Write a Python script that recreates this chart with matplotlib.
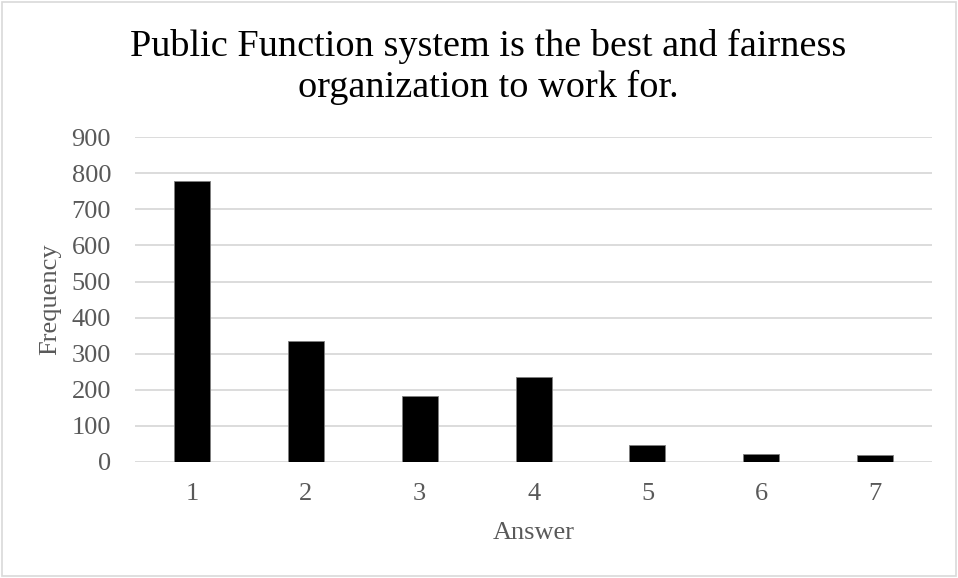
import matplotlib
matplotlib.use('Agg')
import matplotlib.pyplot as plt
from matplotlib.patches import Rectangle

answers = ['1', '2', '3', '4', '5', '6', '7']
frequency = [778, 336, 182, 234, 48, 23, 18]
yticks = [0, 100, 200, 300, 400, 500, 600, 700, 800, 900]
title_lines = ['Public Function system is the best and fairness',
               'organization to work for.']

TEXT = '#595959'
GRID = '#d9d9d9'

plt.rcParams['font.family'] = ['Liberation Serif', 'DejaVu Serif']

fig = plt.figure(figsize=(9.58, 5.78), dpi=100)
ax = fig.add_axes([0.141, 0.201, 0.832, 0.5615])

x = list(range(len(answers)))
ax.bar(x, frequency, width=0.316, color='black', edgecolor='#7f7f7f',
       linewidth=0.6, zorder=3)

ax.set_xlim(-0.5, len(answers) - 0.5)
ax.set_ylim(0, 900)
ax.set_yticks(yticks)
ax.set_xticks(x)
ax.set_xticklabels(answers)
ax.yaxis.grid(True, color=GRID, linewidth=1.3, zorder=0)
ax.set_axisbelow(True)
for s in ax.spines.values():
    s.set_visible(False)
ax.tick_params(axis='both', length=0, labelsize=19, colors=TEXT)
ax.tick_params(axis='x', pad=15.3)
ax.tick_params(axis='y', pad=17.3)

# axis titles centred at fixed spots relative to the plot area
ax.set_xlabel('Answer', fontsize=19, color=TEXT, va='center')
ax.xaxis.set_label_coords(0.5005, -0.2194)
ax.set_ylabel('Frequency', fontsize=19, color=TEXT, va='center')
ax.yaxis.set_label_coords(-0.106, 0.502)

# two-line title, baselines placed in figure coords
fig.text(0.510, 1 - 56 / 578, title_lines[0], ha='center', va='baseline',
         fontsize=27.5, color='black')
fig.text(0.510, 1 - 97 / 578, title_lines[1], ha='center', va='baseline',
         fontsize=27.5, color='black')

# chart area border
fig.patches.append(Rectangle((0.002, 0.003), 0.996, 0.994,
                             transform=fig.transFigure, fill=False,
                             edgecolor=GRID, linewidth=1.2))

fig.savefig('out.png', dpi=100)
